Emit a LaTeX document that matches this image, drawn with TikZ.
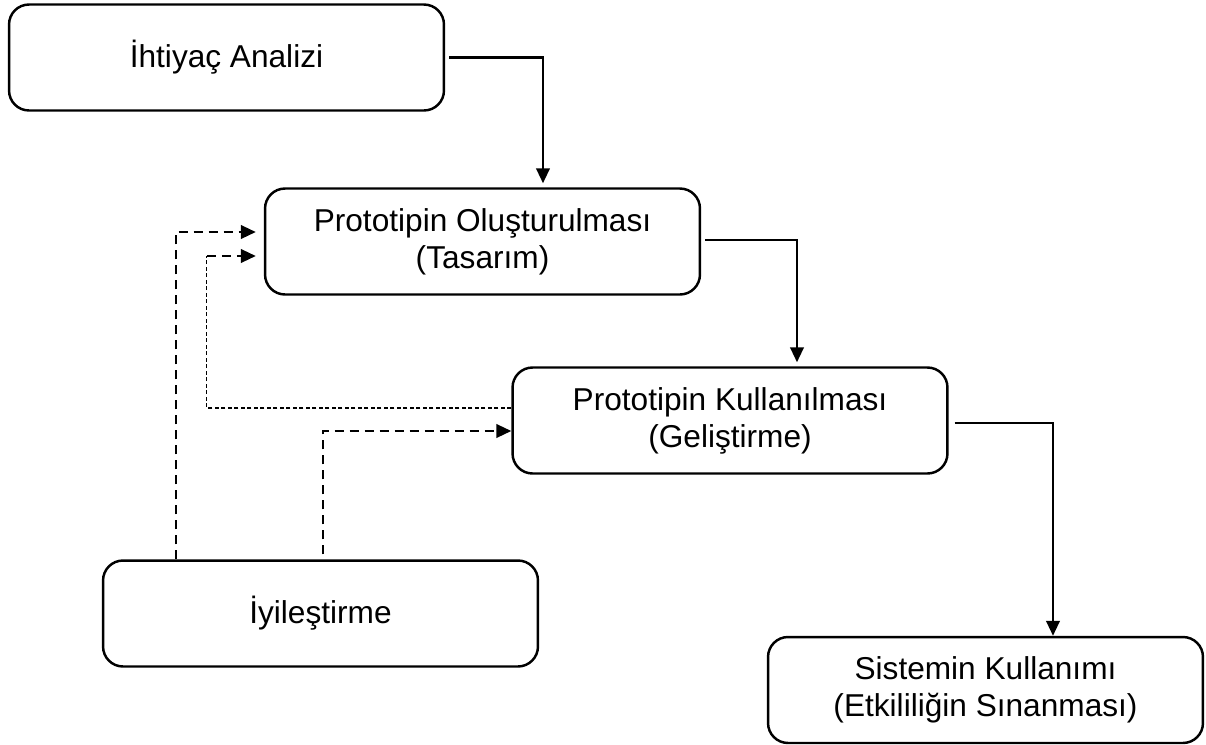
\documentclass[tikz,border=0pt]{standalone}
\usepackage{fontspec}
\setmainfont{Liberation Sans}
\usetikzlibrary{arrows.meta}
\begin{document}
\begin{tikzpicture}[x=0.02cm,y=-0.02cm,
  stage/.style={draw, line width=1.4pt, rounded corners=0.4cm,
    minimum width=8.7cm, minimum height=2.12cm, inner sep=0pt,
    align=center, font=\fontsize{18}{21}\selectfont},
  flow/.style={line width=1.4pt, -{Triangle[length=0.3cm,width=0.27cm]}},
  redo/.style={line width=1.4pt, dash pattern=on 0.18cm off 0.12cm,
    -{Triangle[length=0.3cm,width=0.27cm]}},
  feedback/.style={line width=0.6pt, dash pattern=on 0.08cm off 0.05cm}]
\useasboundingbox (0,0) rectangle (1206,744);

\node[stage] (need) at (226.5,57.5) {İhtiyaç Analizi};
\node[stage] (design) at (482.5,241.5) {Prototipin Oluşturulması\\(Tasarım)};
\node[stage] (use) at (730,420.5) {Prototipin Kullanılması\\(Geliştirme)};
\node[stage] (improve) at (320.5,613.5) {İyileştirme};
\node[stage] (system) at (985.5,690) {Sistemin Kullanımı\\(Etkililiğin Sınanması)};

% main flow
\draw[flow] ([xshift=0.08cm]need.east) -| ([xshift=1.21cm,yshift=0.08cm]design.north);
\draw[flow] ([xshift=0.08cm,yshift=0.03cm]design.east) -| ([xshift=1.34cm,yshift=0.08cm]use.north);
\draw[flow] ([xshift=0.12cm,yshift=-0.05cm]use.east) -| ([xshift=1.35cm]system.north);

% improvements fed back
\draw[redo, shorten >=0.16cm] ([xshift=-2.89cm]improve.north) |- ([yshift=0.19cm]design.west);
\draw[redo] ([xshift=0.05cm,yshift=0.1cm]improve.north) |- ([yshift=-0.21cm]use.west);

% return from use to design
\coordinate (back) at ([xshift=-1.14cm,yshift=-0.29cm]design.west);
\draw[feedback] ([yshift=0.25cm]use.west) -| (back);
\draw[redo, shorten >=0.16cm] (back) -- ([yshift=-0.29cm]design.west);
\end{tikzpicture}
\end{document}
